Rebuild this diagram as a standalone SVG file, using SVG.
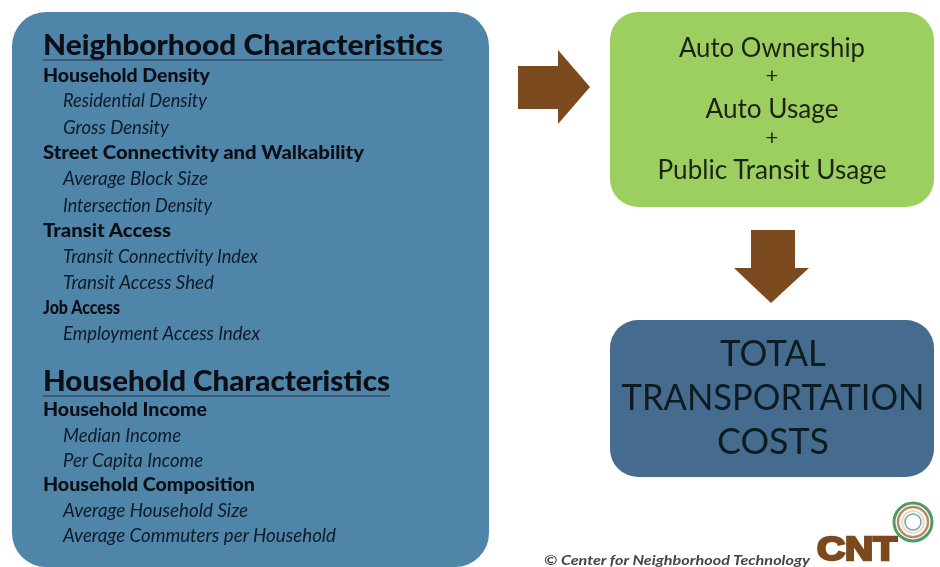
<svg xmlns="http://www.w3.org/2000/svg" width="940" height="567" viewBox="0 0 940 567">
<defs>
<filter id="sh" x="-5%" y="-20%" width="110%" height="140%"><feGaussianBlur stdDeviation="0.35"/></filter>
<filter id="soft" x="-5%" y="-5%" width="110%" height="110%"><feGaussianBlur stdDeviation="0.5"/></filter>
</defs>
<style>
text{font-family:"Lato","Noto Sans","Liberation Sans",sans-serif;fill:#0a0f14}
.h{font-size:28px;font-weight:900;filter:url(#sh)}
.b{font-size:18px;font-weight:900;filter:url(#sh)}
.i{font-size:18.5px;font-style:italic;filter:url(#sh);fill:#0e1a26}
.g{font-size:26px;text-anchor:middle;fill:#1c2418;filter:url(#sh)}
.p{font-size:22px;text-anchor:middle;fill:#1c2418;filter:url(#sh)}
.t{font-size:36px;text-anchor:middle;fill:#0f1a22;filter:url(#sh)}
.a{fill:#7b4a1e}
</style>
<rect width="940" height="567" fill="#fff"/>
<g id="characteristics">
<rect x="12" y="12" width="477" height="555" rx="34" fill="#5085aa"/>
<text class="h" x="43" y="55" textLength="400" lengthAdjust="spacingAndGlyphs">Neighborhood Characteristics</text>
<line x1="43" y1="60" x2="443" y2="60" stroke="#1b3346" stroke-width="1"/>
<text class="b" x="43" y="82" textLength="167" lengthAdjust="spacingAndGlyphs">Household Density</text>
<text class="i" x="63" y="107" textLength="144" lengthAdjust="spacingAndGlyphs">Residential Density</text>
<text class="i" x="63" y="134" textLength="106" lengthAdjust="spacingAndGlyphs">Gross Density</text>
<text class="b" x="43" y="159" textLength="321" lengthAdjust="spacingAndGlyphs">Street Connectivity and Walkability</text>
<text class="i" x="63" y="185" textLength="145" lengthAdjust="spacingAndGlyphs">Average Block Size</text>
<text class="i" x="63" y="212" textLength="149" lengthAdjust="spacingAndGlyphs">Intersection Density</text>
<text class="b" x="43" y="237" textLength="128" lengthAdjust="spacingAndGlyphs">Transit Access</text>
<text class="i" x="63" y="263" textLength="195" lengthAdjust="spacingAndGlyphs">Transit Connectivity Index</text>
<text class="i" x="63" y="289" textLength="151" lengthAdjust="spacingAndGlyphs">Transit Access Shed</text>
<text class="b" x="43" y="314" textLength="77" lengthAdjust="spacingAndGlyphs">Job Access</text>
<text class="i" x="63" y="340" textLength="197" lengthAdjust="spacingAndGlyphs">Employment Access Index</text>
<text class="h" x="43" y="391" textLength="347" lengthAdjust="spacingAndGlyphs">Household Characteristics</text>
<line x1="43" y1="396" x2="390" y2="396" stroke="#1b3346" stroke-width="1"/>
<text class="b" x="43" y="416" textLength="164" lengthAdjust="spacingAndGlyphs">Household Income</text>
<text class="i" x="63" y="442" textLength="118" lengthAdjust="spacingAndGlyphs">Median Income</text>
<text class="i" x="63" y="467" textLength="140" lengthAdjust="spacingAndGlyphs">Per Capita Income</text>
<text class="b" x="43" y="491" textLength="212" lengthAdjust="spacingAndGlyphs">Household Composition</text>
<text class="i" x="63" y="517" textLength="185" lengthAdjust="spacingAndGlyphs">Average Household Size</text>
<text class="i" x="63" y="542" textLength="273" lengthAdjust="spacingAndGlyphs">Average Commuters per Household</text>
</g>
<g id="usage">
<rect x="610" y="12" width="324" height="195" rx="28" fill="#9ccf5f"/>
<text class="g" x="772" y="57" textLength="186" lengthAdjust="spacingAndGlyphs">Auto Ownership</text>
<text class="p" x="772" y="83">+</text>
<text class="g" x="772" y="118" textLength="133" lengthAdjust="spacingAndGlyphs">Auto Usage</text>
<text class="p" x="772" y="145">+</text>
<text class="g" x="772" y="179" textLength="229" lengthAdjust="spacingAndGlyphs">Public Transit Usage</text>
</g>
<g id="costs">
<rect x="610" y="320" width="324" height="157" rx="28" fill="#456c8f"/>
<text class="t" x="773" y="366" textLength="106" lengthAdjust="spacingAndGlyphs">TOTAL</text>
<text class="t" x="773" y="410" textLength="303" lengthAdjust="spacingAndGlyphs">TRANSPORTATION</text>
<text class="t" x="773" y="454" textLength="112" lengthAdjust="spacingAndGlyphs">COSTS</text>
</g>
<g id="connectors">
<polygon class="a" points="518,66 558,66 558,50 590,87 558,124 558,109 518,109"/>
<polygon class="a" points="751,230 795,230 795,268 809,268 771,303 734,268 751,268"/>
</g>
<g id="credit">
<text x="544" y="565" font-size="14" font-style="italic" font-weight="700" textLength="266" lengthAdjust="spacingAndGlyphs" filter="url(#sh)" style="fill:#444">© Center for Neighborhood Technology</text>
<text x="817" y="560" font-size="33" textLength="80" lengthAdjust="spacingAndGlyphs" filter="url(#sh)" style="fill:#7b4a1e;font-family:'Liberation Sans',sans-serif;font-weight:700;stroke:#7b4a1e;stroke-width:2.5">CNT</text>
<g filter="url(#soft)" fill="none">
<circle cx="913" cy="522" r="19" stroke="#4f9a68" stroke-width="3"/>
<circle cx="913" cy="522" r="15" stroke="#b98a5e" stroke-width="2.5"/>
<circle cx="913" cy="522" r="11" stroke="#e3ddcf" stroke-width="2"/>
<circle cx="913" cy="522" r="8" stroke="#7aa6a0" stroke-width="1.5"/>
</g>
</g>
</svg>
